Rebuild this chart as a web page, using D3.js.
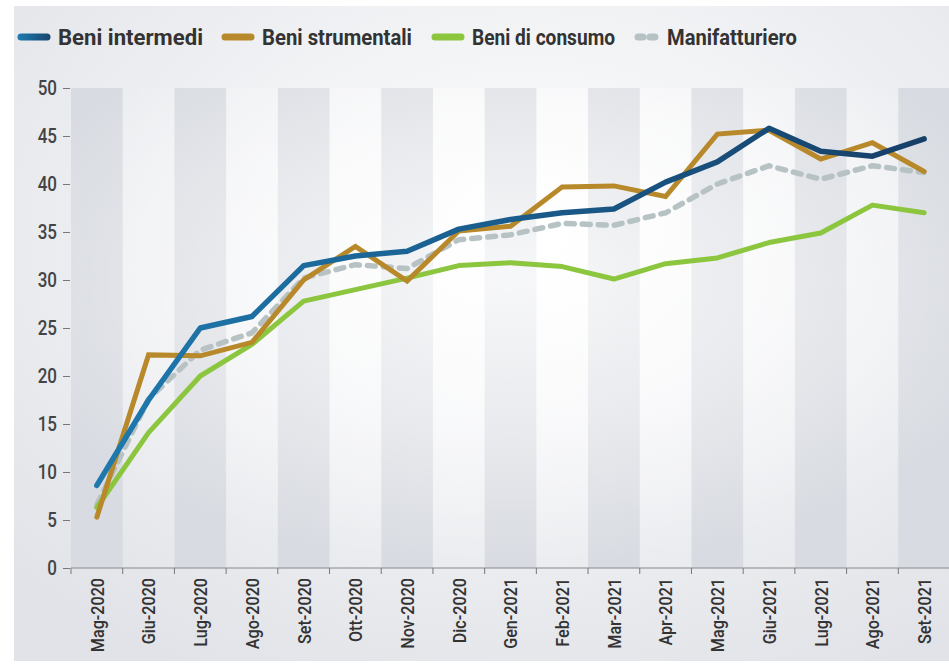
<!DOCTYPE html>
<html><head><meta charset="utf-8">
<script src="https://cdn.jsdelivr.net/npm/d3@7"></script>
<style>body{margin:0;background:#fff}svg{display:block}</style>
</head><body>
<script>
const categories = ["Mag-2020","Giu-2020","Lug-2020","Ago-2020","Set-2020","Ott-2020","Nov-2020","Dic-2020","Gen-2021","Feb-2021","Mar-2021","Apr-2021","Mag-2021","Giu-2021","Lug-2021","Ago-2021","Set-2021"];
const beniIntermedi   = [8.6,17.5,25.0,26.2,31.5,32.5,33.0,35.3,36.3,37.0,37.4,40.2,42.3,45.8,43.4,42.9,44.7];
const beniStrumentali = [5.3,22.2,22.1,23.5,30.0,33.5,29.9,35.1,35.6,39.7,39.8,38.7,45.2,45.6,42.6,44.3,41.3];
const beniConsumo     = [6.3,14.1,20.0,23.3,27.8,29.0,30.2,31.5,31.8,31.4,30.1,31.7,32.3,33.9,34.9,37.8,37.0];
const manifatturiero  = [6.6,17.6,22.7,24.5,30.2,31.6,31.2,34.2,34.7,35.9,35.7,37.0,40.0,41.9,40.5,41.9,41.2];
const yTicks = [0,5,10,15,20,25,30,35,40,45,50];
const seriesNames = ["Beni intermedi","Beni strumentali","Beni di consumo","Manifatturiero"];

const FONT="Roboto, 'Liberation Sans', sans-serif";
const W=949,H=667;
const m={left:71,right:950,top:88,bottom:568};
const svg=d3.select("body").append("svg").attr("width",W).attr("height",H);
const defs=svg.append("defs");
const bg=defs.append("radialGradient").attr("id","bg").attr("cx","55%").attr("cy","35%").attr("r","75%");
bg.append("stop").attr("offset","0%").attr("stop-color","#ffffff");
bg.append("stop").attr("offset","100%").attr("stop-color","#e1e3e8");
const glow=defs.append("radialGradient").attr("id","glow").attr("cx","50%").attr("cy","40%").attr("r","60%");
glow.append("stop").attr("offset","0%").attr("stop-color","#fff").attr("stop-opacity",0.8);
glow.append("stop").attr("offset","55%").attr("stop-color","#fff").attr("stop-opacity",0.4);
glow.append("stop").attr("offset","100%").attr("stop-color","#fff").attr("stop-opacity",0);
const blueGrad=defs.append("linearGradient").attr("id","blueGrad").attr("gradientUnits","userSpaceOnUse")
  .attr("x1",m.left).attr("x2",m.right).attr("y1",0).attr("y2",0);
blueGrad.append("stop").attr("offset","0%").attr("stop-color","#1f7bb0");
blueGrad.append("stop").attr("offset","45%").attr("stop-color","#1a5f8f");
blueGrad.append("stop").attr("offset","100%").attr("stop-color","#163e66");
const legGrad=defs.append("linearGradient").attr("id","legGrad").attr("gradientUnits","userSpaceOnUse")
  .attr("x1",18).attr("x2",50).attr("y1",0).attr("y2",0);
legGrad.append("stop").attr("offset","0%").attr("stop-color","#1f7bb0");
legGrad.append("stop").attr("offset","100%").attr("stop-color","#17466f");

svg.append("rect").attr("x",14).attr("y",6).attr("width",W-14).attr("height",655).attr("fill","url(#bg)");

const x=d3.scaleBand().domain(categories).range([m.left,m.right]).paddingInner(0).paddingOuter(0);
const y=d3.scaleLinear().domain([0,50]).range([m.bottom,m.top]);

// bands
svg.append("g").selectAll("rect").data(categories.filter((d,i)=>i%2===0)).join("rect")
  .attr("x",d=>x(d)).attr("y",y(50)).attr("width",x.bandwidth()).attr("height",y(0)-y(50))
  .attr("fill","#d8dbe1");
svg.append("rect").attr("x",m.left).attr("y",y(50)).attr("width",m.right-m.left).attr("height",y(0)-y(50))
  .attr("fill","url(#glow)");

function squeeze(sel,f){ sel.each(function(){ const L=this.getComputedTextLength(); d3.select(this).attr("textLength",L*f).attr("lengthAdjust","spacingAndGlyphs"); }); }

// y axis
const yAxis=svg.append("g").attr("transform",`translate(${m.left},0)`)
  .call(d3.axisLeft(y).tickValues(yTicks).tickSize(8).tickPadding(5));
yAxis.select(".domain").remove();
yAxis.selectAll(".tick line").attr("stroke","#777").attr("x1",-1).attr("x2",-8);
yAxis.selectAll(".tick text").attr("fill","#444").style("font-family",FONT)
  .style("font-size","20px").style("font-weight","500").attr("x",-14);
squeeze(yAxis.selectAll(".tick text"),0.85);

// x axis
const xAxis=svg.append("g").attr("transform",`translate(0,${m.bottom})`)
  .call(d3.axisBottom(x).tickSize(0).tickPadding(0));
xAxis.select(".domain").attr("stroke","#888").attr("d",`M${m.left},0H${m.right}`);
xAxis.selectAll(".tick text").attr("transform","rotate(-90)").attr("text-anchor","end")
  .attr("x",-10).attr("y",0).attr("dy","0.36em")
  .attr("fill","#333").style("font-family",FONT)
  .style("font-size","19px").style("font-weight","500");
squeeze(xAxis.selectAll(".tick text"),0.85);
svg.append("g").selectAll("line").data(categories.map(d=>x(d))).join("line")
  .attr("x1",d=>d).attr("x2",d=>d).attr("y1",m.bottom).attr("y2",m.bottom+6).attr("stroke","#777");

// lines
const line=d3.line().x((d,i)=>x(categories[i])+x.bandwidth()/2).y(d=>y(d));
svg.append("path").datum(manifatturiero).attr("d",line).attr("fill","none").attr("stroke","#b7c2c4")
  .attr("stroke-width",5.5).attr("stroke-dasharray","8,8").attr("stroke-linecap","round").attr("stroke-linejoin","round");
svg.append("path").datum(beniConsumo).attr("d",line).attr("fill","none").attr("stroke","#8cc63f")
  .attr("stroke-width",5).attr("stroke-linecap","round").attr("stroke-linejoin","round");
svg.append("path").datum(beniStrumentali).attr("d",line).attr("fill","none").attr("stroke","#b8892a")
  .attr("stroke-width",5).attr("stroke-linecap","round").attr("stroke-linejoin","miter");
svg.append("path").datum(beniIntermedi).attr("d",line).attr("fill","none").attr("stroke","url(#blueGrad)")
  .attr("stroke-width",5.5).attr("stroke-linecap","round").attr("stroke-linejoin","round");

// legend
const legX=[18,222,432,635];
const legW=[145,150,143,130];
const legCol=["url(#legGrad)","#b8892a","#8cc63f","#b7c2c4"];
const lg=svg.append("g");
seriesNames.forEach((n,i)=>{
  if(i<3){
    lg.append("line").attr("x1",legX[i]+3).attr("x2",legX[i]+29).attr("y1",37).attr("y2",37)
      .attr("stroke",legCol[i]).attr("stroke-width",7).attr("stroke-linecap","round");
  } else {
    lg.append("line").attr("x1",legX[i]+3).attr("x2",legX[i]+25).attr("y1",37).attr("y2",37)
      .attr("stroke",legCol[i]).attr("stroke-width",7).attr("stroke-linecap","round").attr("stroke-dasharray","5,7");
  }
  lg.append("text").attr("x",legX[i]+(i<3?40:32)).attr("y",37).attr("dy","0.36em").text(n)
    .attr("fill","#333").style("font-family",FONT)
    .style("font-size","22px").style("font-weight","bold")
    .attr("textLength",legW[i]).attr("lengthAdjust","spacingAndGlyphs");
});
</script>
</body></html>
